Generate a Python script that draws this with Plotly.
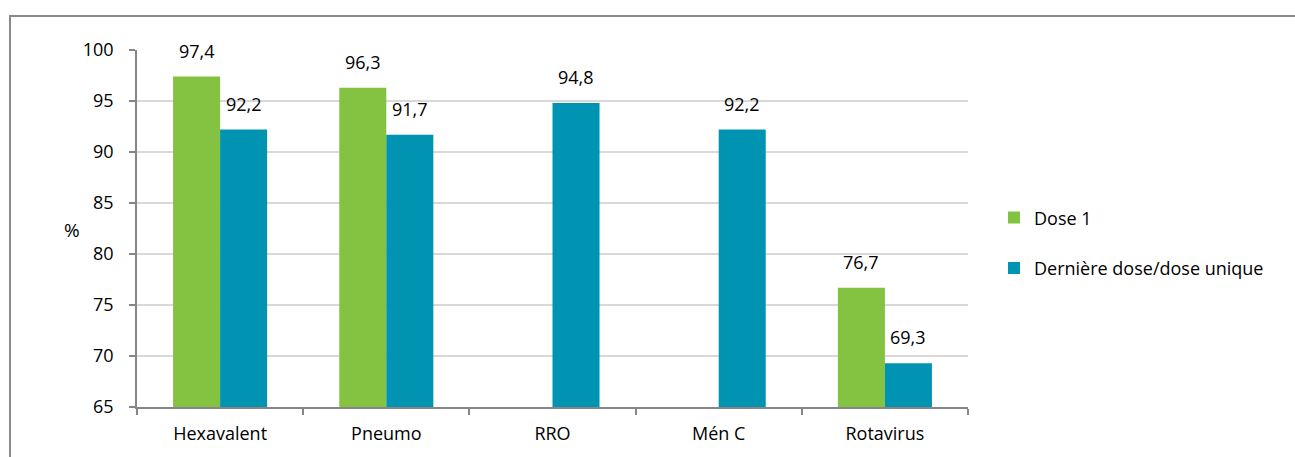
import plotly.graph_objects as go

categories = ["Hexavalent", "Pneumo", "RRO", "Mén C", "Rotavirus"]
dose1 = [97.4, 96.3, None, None, 76.7]
derniere = [92.2, 91.7, 94.8, 92.2, 69.3]
series_names = ["Dose 1", "Dernière dose/dose unique"]
y_ticks = [65, 70, 75, 80, 85, 90, 95, 100]

GREEN = "#83C341"
TEAL = "#0093B2"
FONT = "Open Sans"
FS = 18

# plot area in pixels
W, H = 1295, 457
L, R, T, B = 137, 968, 50, 411

fig = go.Figure()
fig.add_trace(go.Bar(x=categories, y=dose1, name=series_names[0], marker_color=GREEN,
                     marker_line_width=0, legendgroup="a", hoverinfo="skip"))
fig.add_trace(go.Bar(x=categories, y=derniere, name=series_names[1], marker_color=TEAL,
                     marker_line_width=0, legendgroup="b", hoverinfo="skip"))

def fmt(v):
    return f"{v:.1f}".replace(".", ",")

bar_px = (R - L) / len(categories) * (1 - 0.434) / 2
annotations = []
for series, sh in ((dose1, -bar_px / 2), (derniere, bar_px / 2)):
    for c, v in zip(categories, series):
        if v is None:
            continue
        annotations.append(dict(x=c, y=v, xref="x", yref="y", text=fmt(v), showarrow=False,
                                xshift=sh, yshift=12, yanchor="bottom",
                                font=dict(family=FONT, size=FS, color="#000")))

pw, ph = R - L, B - T
annotations.append(dict(x=(62 - L) / pw, y=(B - 232) / ph, xref="paper", yref="paper",
                        text="%", showarrow=False, font=dict(family=FONT, size=FS + 1, color="#000")))

fig.update_layout(
    width=W, height=H,
    margin=dict(l=L, r=W - R, t=T, b=H - B, pad=0),
    paper_bgcolor="white", plot_bgcolor="white",
    barmode="group", bargap=0.434, bargroupgap=0,
    font=dict(family=FONT, size=FS, color="#000"),
    annotations=annotations,
    showlegend=True,
    legend=dict(x=(994 - L) / pw, xanchor="left", y=(B - 245) / ph, yanchor="middle",
                tracegroupgap=24, traceorder="grouped", itemwidth=30,
                font=dict(family=FONT, size=FS, color="#000"), bgcolor="rgba(0,0,0,0)"),
    shapes=[dict(type="rect", xref="paper", yref="paper",
                 x0=(10 - L) / pw, x1=(1400 - L) / pw, y0=(B - 600) / ph, y1=(B - 15.5) / ph,
                 line=dict(color="#8A8A8A", width=2), fillcolor="rgba(0,0,0,0)", layer="below")],
)
fig.update_xaxes(showline=True, linecolor="#868686", linewidth=1.5,
                 ticks="outside", tickson="boundaries", ticklen=6, tickcolor="#868686",
                 tickwidth=1.5, showgrid=False, ticklabelstandoff=10,
                 tickfont=dict(family=FONT, size=FS, color="#000"), fixedrange=True)
fig.update_yaxes(range=[65, 100], tickvals=y_ticks, showline=True, linecolor="#868686",
                 linewidth=1.5, ticks="outside", ticklen=6, tickcolor="#868686", tickwidth=1.5,
                 showgrid=True, gridcolor="#D9D9D9", gridwidth=1.5, zeroline=False,
                 ticklabelstandoff=12, tickfont=dict(family=FONT, size=FS, color="#000"),
                 fixedrange=True)

fig.write_html("out.html")
